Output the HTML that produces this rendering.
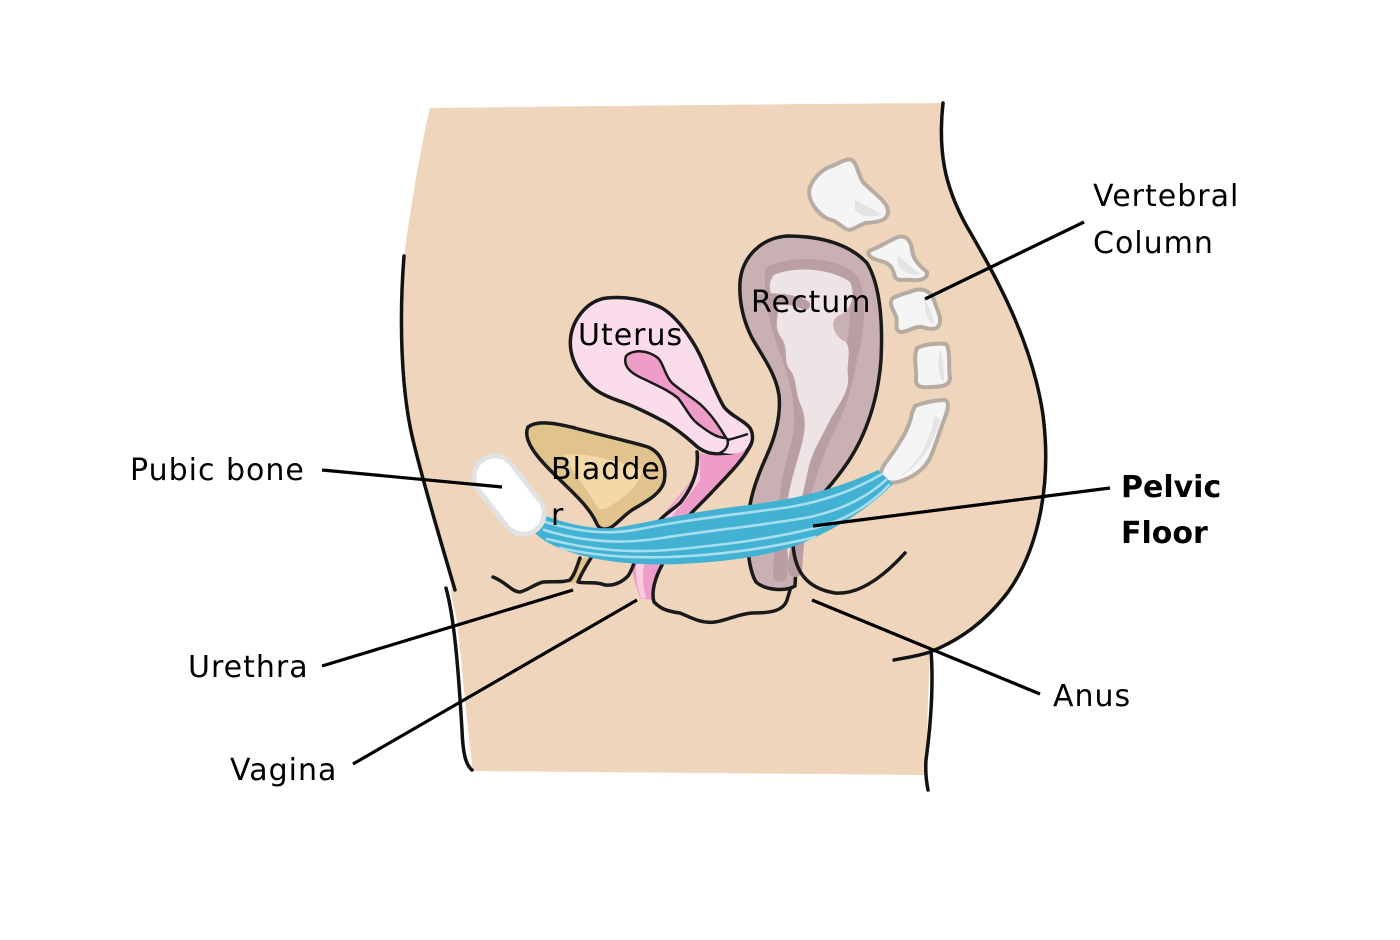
<!DOCTYPE html>
<html>
<head>
<meta charset="utf-8">
<style>
  html,body{margin:0;padding:0;background:#fff;}
  svg{display:block;}
  .lbl{font-family:"DejaVu Sans","Liberation Sans",sans-serif;font-size:30px;letter-spacing:1px;fill:#000;}
  .bold{font-weight:bold;letter-spacing:0px;}
</style>
</head>
<body>
<svg width="1400" height="940" viewBox="0 0 1400 940" xmlns="http://www.w3.org/2000/svg">
  <rect width="1400" height="940" fill="#ffffff"/>

  <!-- Body fill -->
  <path d="M430,108 C600,106 800,104 945,103 C938,150 944,185 966,225 C995,275 1032,340 1043,415 C1052,485 1038,550 1008,592 C985,622 960,640 930,652 L928,700 L926,775 L473,771 C466,720 462,660 456,615 C452,600 450,592 452,588 C438,535 418,480 410,420 C402,360 401,300 404,256 C412,200 420,150 430,108 Z" fill="#EED5BB"/>

  <!-- Body outlines -->
  <g fill="none" stroke="#111" stroke-width="3.5" stroke-linecap="round">
    <path d="M943,103 C938,150 944,185 966,225 C995,275 1032,340 1043,415 C1052,485 1038,550 1008,592 C985,622 960,640 930,652 C915,657 903,658 894,660"/>
    <path d="M931,650 C934,690 930,730 926,760 C925,775 927,785 928,790"/>
    <path d="M404,256 C399,320 401,390 413,440 C425,490 442,545 455,590"/>
    <path d="M446,588 C455,620 459,680 462,730 C463,755 466,765 472,770"/>
  </g>

  <!-- Vertebrae -->
  <g fill="#F5F5F5" stroke="#B7ACA2" stroke-width="4" stroke-linejoin="round">
    <path d="M810,187 C815,175 825,168 832,166 C840,163 846,158 852,160 C858,165 858,175 863,182 C872,192 886,200 888,210 C889,220 880,222 866,223 C858,225 852,232 846,229 C838,224 835,220 828,219 C818,214 806,200 810,187 Z"/>
    <path d="M869,251 C880,247 890,240 898,237 C906,235 911,240 912,250 C913,260 920,266 927,272 C928,278 922,281 912,280 C904,279 898,282 895,277 C893,270 892,265 884,262 C876,260 866,257 869,251 Z"/>
    <path d="M893,298 C900,294 908,293 915,290 C925,288 932,293 934,300 C936,308 941,315 940,322 C939,330 932,330 922,327 C914,326 906,333 900,332 C894,330 898,322 896,316 C893,310 888,302 893,298 Z"/>
    <path d="M917,348 C925,344 938,343 946,344 C951,350 948,365 950,378 C950,386 940,387 930,387 C920,388 915,386 916,378 C917,370 913,358 917,348 Z"/>
    <path d="M915,406 C925,402 937,400 945,400 C950,402 948,410 944,420 C938,436 934,450 930,458 C924,470 912,478 898,482 C890,484 882,481 881,474 C881,466 890,458 896,448 C904,436 910,425 912,413 Z"/>
  </g>
  <g fill="#E4E4E4" stroke="none">
    <path d="M855,200 C865,205 875,210 882,215 C870,218 860,216 855,210 Z"/>
    <path d="M898,255 C905,262 912,268 920,274 C910,276 902,272 898,265 Z"/>
    <path d="M925,300 C930,308 934,318 934,325 C928,322 924,312 925,300 Z"/>
    <path d="M940,350 C944,360 944,372 944,382 C938,378 937,362 940,350 Z"/>
    <path d="M935,415 C930,440 920,462 900,476 C915,470 932,450 940,420 Z"/>
  </g>

  <!-- Rectum -->
  <path d="M787,236 C820,236 848,243 867,263 C880,285 883,320 881,360 C878,400 866,435 848,462 C832,485 818,500 807,508 L797,548 L795,586 C785,592 765,590 756,582 C749,570 746,545 748,520 C750,495 758,475 767,455 C776,435 781,415 779,395 C776,375 765,360 752,338 C742,318 739,300 740,282 C742,258 760,238 787,236 Z" fill="#C9B1B3" stroke="#1a1a1a" stroke-width="3.5" stroke-linejoin="round"/>
  <path d="M772,272 C800,262 835,265 852,280 C860,300 858,330 850,360 C846,385 838,410 825,435 C815,455 808,480 800,505 L795,570 M772,272 C770,300 778,330 790,360 C800,390 805,420 798,445 C790,470 785,500 782,540 L780,575" fill="none" stroke="#B99EA3" stroke-width="14" stroke-linecap="round" stroke-linejoin="round"/>
  <path d="M774,275 C795,266 830,268 850,282 C856,296 852,310 838,316 C830,320 832,336 846,342 C852,352 846,364 848,376 C850,392 836,408 830,420 C820,440 812,452 808,470 C804,490 800,505 796,520 L788,560 L786,520 C786,500 792,478 798,458 C803,440 808,425 802,408 C794,392 798,380 790,370 C782,360 790,348 780,336 C772,322 782,312 776,302 C768,292 768,282 774,275 Z" fill="#EFE4E5"/>
  <path d="M760,300 C775,296 795,300 805,305" stroke="#B99EA3" stroke-width="10" fill="none" stroke-linecap="round"/>

  <!-- Uterus -->
  <path d="M607,298 C625,296 645,300 660,307 C675,315 690,335 700,355 C708,372 715,392 724,407 C732,417 744,420 750,428 C755,437 752,447 745,452 C738,457 728,456 720,454 C710,454 702,452 693,443 C685,436 675,428 665,422 C650,414 638,408 625,403 C610,398 598,393 590,385 C575,370 568,352 571,335 C574,318 588,300 607,298 Z" fill="#FADCEB" stroke="#1a1a1a" stroke-width="3.5" stroke-linejoin="round"/>
  <path d="M626,356 C633,349 648,350 658,358 C664,364 664,374 672,383 C680,390 690,396 700,404 C710,413 718,424 726,438 C716,438 706,430 698,424 C690,418 686,408 678,398 C668,390 658,386 646,380 C634,375 622,368 626,356 Z" fill="#EE9DC9" stroke="#1a1a1a" stroke-width="2.5" stroke-linejoin="round"/>
  <path d="M727,438 C730,446 725,452 715,455" fill="none" stroke="#1a1a1a" stroke-width="2.5"/>
  <path d="M728,440 C735,438 742,436 748,434" fill="none" stroke="#1a1a1a" stroke-width="2.5"/>

  <!-- Vagina -->
  <path d="M697,452 C705,455 715,456 725,455 C735,455 745,452 750,445 C745,462 730,475 715,490 C700,505 690,515 683,525 L662,565 C656,578 652,590 652,600 L640,598 C636,586 632,575 632,566 L656,524 C670,505 690,485 697,470 Z" fill="#EE9DC9"/>
  <path d="M700,458 C698,472 690,486 680,498 C670,510 662,518 658,524 L636,566 C636,580 638,590 641,598 L646,598 C643,585 642,575 644,566 L668,522 C678,508 690,495 700,480 Z" fill="#F8CBE0"/>
  <g fill="none" stroke="#1a1a1a" stroke-width="3.5" stroke-linecap="round">
    <path d="M697,452 C699,470 693,487 680,503 C670,512 662,516 657,524"/>
    <path d="M751,444 C745,458 730,473 712,492 C700,505 690,513 684,522"/>
    <path d="M662,565 C655,578 651,592 654,602 C660,608 665,611 680,613 C692,618 702,624 715,622 C728,620 738,614 752,613 C768,613 783,612 787,600 L790,590"/>
  </g>

  <!-- Bladder -->
  <path d="M528,427 C537,420 555,423 575,428 C600,435 625,440 648,447 C662,453 667,468 664,482 C660,495 645,502 632,510 C622,517 617,524 610,528 C603,531 598,528 596,522 C588,505 570,490 552,472 C538,458 522,440 528,427 Z" fill="#E1C38D" stroke="#1a1a1a" stroke-width="3.5" stroke-linejoin="round"/>
  <path d="M563,455 C585,452 615,460 642,470 C640,484 628,494 615,503 C606,510 600,512 596,505 C588,490 575,475 563,455 Z" fill="#F3D9A7"/>

  <!-- Urethra -->
  <path d="M580,558 L592,558 L578,583 L568,583 Z" fill="#E1C38D"/>
  <g fill="none" stroke="#1a1a1a" stroke-width="3.5" stroke-linecap="round" stroke-linejoin="round">
    <path d="M580,558 C577,566 575,574 570,580 C562,583 552,581 543,582 C535,584 528,590 520,592 C512,592 506,582 493,577"/>
    <path d="M591,558 C586,566 581,574 578,582 C585,584 595,581 605,585 C614,586 622,582 628,576 C632,570 633,566 634,563"/>
    <path d="M793,545 C795,570 805,588 835,593 C860,595 885,575 905,553"/>
  </g>

  <!-- Pelvic floor -->
  <path d="M535,512 C560,522 590,530 615,528 C650,522 690,512 740,506 C790,500 830,492 878,470 L893,484 C870,507 840,528 795,546 C760,558 720,562 680,564 C640,566 600,562 570,552 C552,546 540,539 532,530 Z" fill="#43B2D2"/>
  <g fill="none" stroke="#A6DEEE" stroke-width="2.6" stroke-linecap="round">
    <path d="M542,521 C575,531 605,536 640,529 C690,519 740,514 790,507 C830,500 858,488 882,474"/>
    <path d="M544,530 C580,541 620,545 662,538 C712,530 760,526 810,517 C845,509 868,496 886,480"/>
    <path d="M547,539 C590,550 630,554 680,549 C730,544 770,539 815,528 C846,520 870,505 889,485"/>
    <path d="M560,548 C600,557 640,559 690,556 C735,553 775,547 815,537"/>
  </g>

  <!-- Pubic bone -->
  <g transform="translate(509,495) rotate(52)">
    <rect x="-44" y="-21" width="88" height="42" rx="21" ry="21" fill="#ffffff" stroke="#E2E2E2" stroke-width="5"/>
  </g>

  <!-- Leader lines -->
  <g stroke="#000" stroke-width="3.2" stroke-linecap="butt">
    <line x1="322" y1="470" x2="502" y2="487"/>
    <line x1="322" y1="666" x2="573" y2="590"/>
    <line x1="353" y1="764" x2="637" y2="600"/>
    <line x1="812" y1="600" x2="1040" y2="694"/>
    <line x1="813" y1="526" x2="1110" y2="488"/>
    <line x1="925" y1="299" x2="1084" y2="222"/>
  </g>

  <!-- Labels -->
  <text class="lbl" x="130" y="480">Pubic bone</text>
  <text class="lbl" x="188" y="677">Urethra</text>
  <text class="lbl" x="230" y="780">Vagina</text>
  <text class="lbl" x="1093" y="206">Vertebral</text>
  <text class="lbl" x="1093" y="253">Column</text>
  <text class="lbl bold" x="1121" y="497">Pelvic</text>
  <text class="lbl bold" x="1121" y="543">Floor</text>
  <text class="lbl" x="1053" y="706">Anus</text>
  <text class="lbl" x="578" y="345">Uterus</text>
  <text class="lbl" x="751" y="312">Rectum</text>
  <text class="lbl" x="551" y="479">Bladde</text>
  <text class="lbl" x="551" y="525">r</text>
</svg>
</body>
</html>
